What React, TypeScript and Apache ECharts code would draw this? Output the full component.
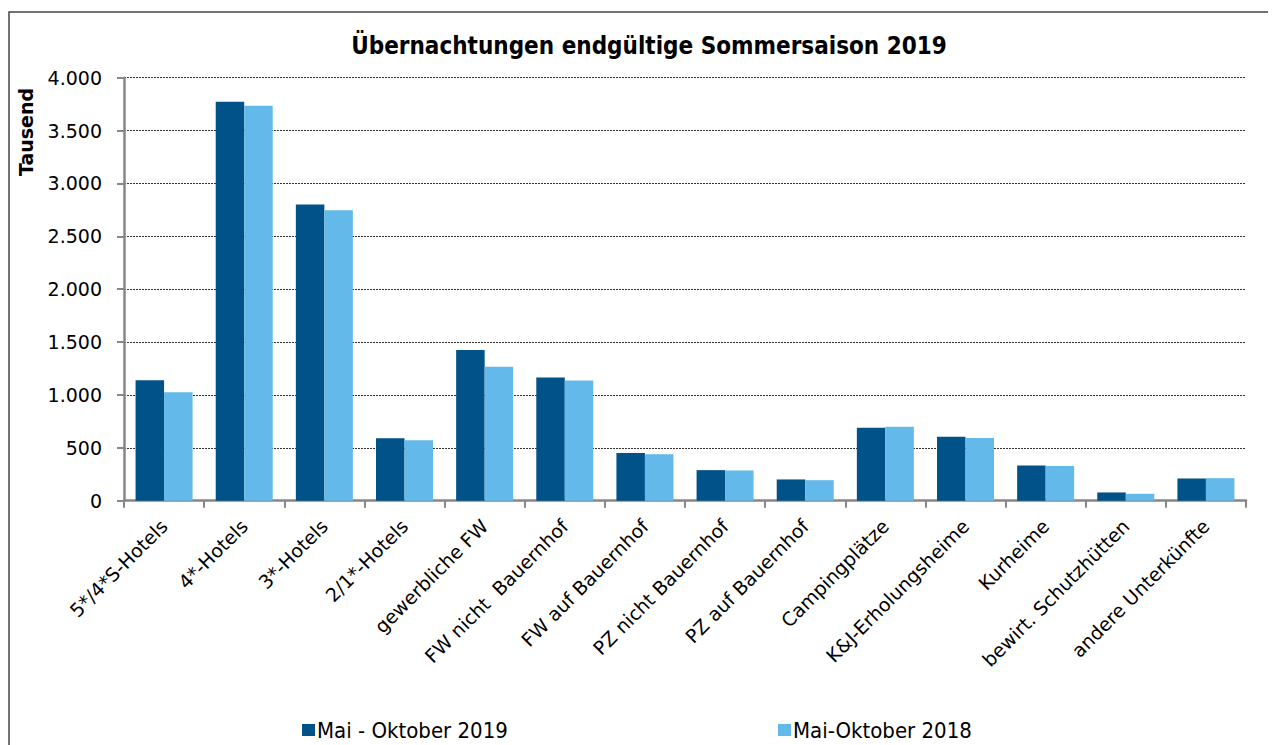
import React, { useEffect, useRef } from "react";
import * as echarts from "echarts";

const categories = [
  "5*/4*S-Hotels",
  "4*-Hotels",
  "3*-Hotels",
  "2/1*-Hotels",
  "gewerbliche FW",
  "FW nicht  Bauernhof",
  "FW auf Bauernhof",
  "PZ nicht Bauernhof",
  "PZ auf Bauernhof",
  "Campingplätze",
  "K&J-Erholungsheime",
  "Kurheime",
  "bewirt. Schutzhütten",
  "andere Unterkünfte",
];
const seriesNames = ["Mai - Oktober 2019", "Mai-Oktober 2018"];
const values2019 = [1140, 3773, 2800, 591, 1424, 1165, 450, 289, 201, 690, 604, 333, 78, 210];
const values2018 = [1026, 3735, 2746, 572, 1266, 1136, 440, 286, 194, 699, 592, 327, 65, 213];
const titleText = "Übernachtungen endgültige Sommersaison 2019";
const yAxisName = "Tausend";

const fmtDe = (v: number) => String(v).replace(/\B(?=(\d{3})+(?!\d))/g, ".");

export default function App() {
  const ref = useRef<HTMLDivElement>(null);
  useEffect(() => {
    if (!ref.current) return;
    const chart = echarts.init(ref.current, undefined, { renderer: "svg" });
    const axisGray = "#878787";
    const legendText = {
      fontFamily: "'DejaVu Sans Condensed', 'DejaVu Sans'",
      fontSize: 22,
      lineHeight: 22,
      color: "#000",
      padding: [0, 0, 0, -3],
    };
    chart.setOption({
      animation: false,
      backgroundColor: "#ffffff",
      graphic: [
        {
          type: "rect",
          shape: { x: 1, y: 4, width: 1400, height: 900 },
          style: { fill: "none", stroke: "#444444", lineWidth: 1.5 },
          silent: true,
          z: -1,
        },
        {
          type: "text",
          x: 641,
          y: 38,
          style: {
            text: titleText,
            font: "bold 24px 'DejaVu Sans Condensed', 'DejaVu Sans'",
            fill: "#000",
            textAlign: "center",
            textVerticalAlign: "middle",
          },
        },
        {
          type: "text",
          x: 18,
          y: 124,
          rotation: Math.PI / 2,
          style: {
            text: yAxisName,
            font: "bold 19px 'DejaVu Sans'",
            fill: "#000",
            textAlign: "center",
            textVerticalAlign: "middle",
          },
        },
      ],
      legend: [
        {
          data: [seriesNames[0]],
          left: 289,
          top: 706,
          icon: "rect",
          itemWidth: 13,
          itemHeight: 12,
          textStyle: legendText,
        },
        {
          data: [seriesNames[1]],
          left: 765,
          top: 706,
          icon: "rect",
          itemWidth: 13,
          itemHeight: 12,
          textStyle: legendText,
        },
      ],
      grid: { left: 116, top: 69.7, right: 22, bottom: 244.3, containLabel: false },
      xAxis: {
        type: "category",
        data: categories,
        boundaryGap: true,
        axisLine: { show: true, lineStyle: { color: axisGray, width: 2.5 } },
        axisTick: { show: true, length: 7, lineStyle: { color: axisGray, width: 2 } },
        axisLabel: {
          rotate: 45,
          interval: 0,
          margin: 22,
          color: "#000",
          fontFamily: "'DejaVu Sans'",
          fontSize: 19,
        },
        splitLine: { show: false },
      },
      yAxis: {
        type: "value",
        min: 0,
        max: 4000,
        interval: 500,
        axisLine: { show: true, lineStyle: { color: axisGray, width: 2.5 } },
        axisTick: { show: true, length: 7, lineStyle: { color: axisGray, width: 2 } },
        axisLabel: {
          margin: 22,
          color: "#000",
          fontFamily: "'DejaVu Sans'",
          fontSize: 19,
          formatter: (v: number) => fmtDe(v),
        },
        splitLine: { show: true, lineStyle: { color: "#333333", width: 1, type: [2, 1] } },
      },
      series: [
        {
          name: seriesNames[0],
          type: "bar",
          data: values2019,
          barWidth: 28.5,
          barGap: "0%",
          itemStyle: { color: "#005288" },
        },
        {
          name: seriesNames[1],
          type: "bar",
          data: values2018,
          barWidth: 28.5,
          barGap: "0%",
          itemStyle: { color: "#63b9e9" },
        },
      ],
    });
    return () => chart.dispose();
  }, []);
  return (
    <div
      ref={ref}
      style={{ position: "absolute", left: 8, top: 8, width: 1260, height: 737 }}
    />
  );
}
